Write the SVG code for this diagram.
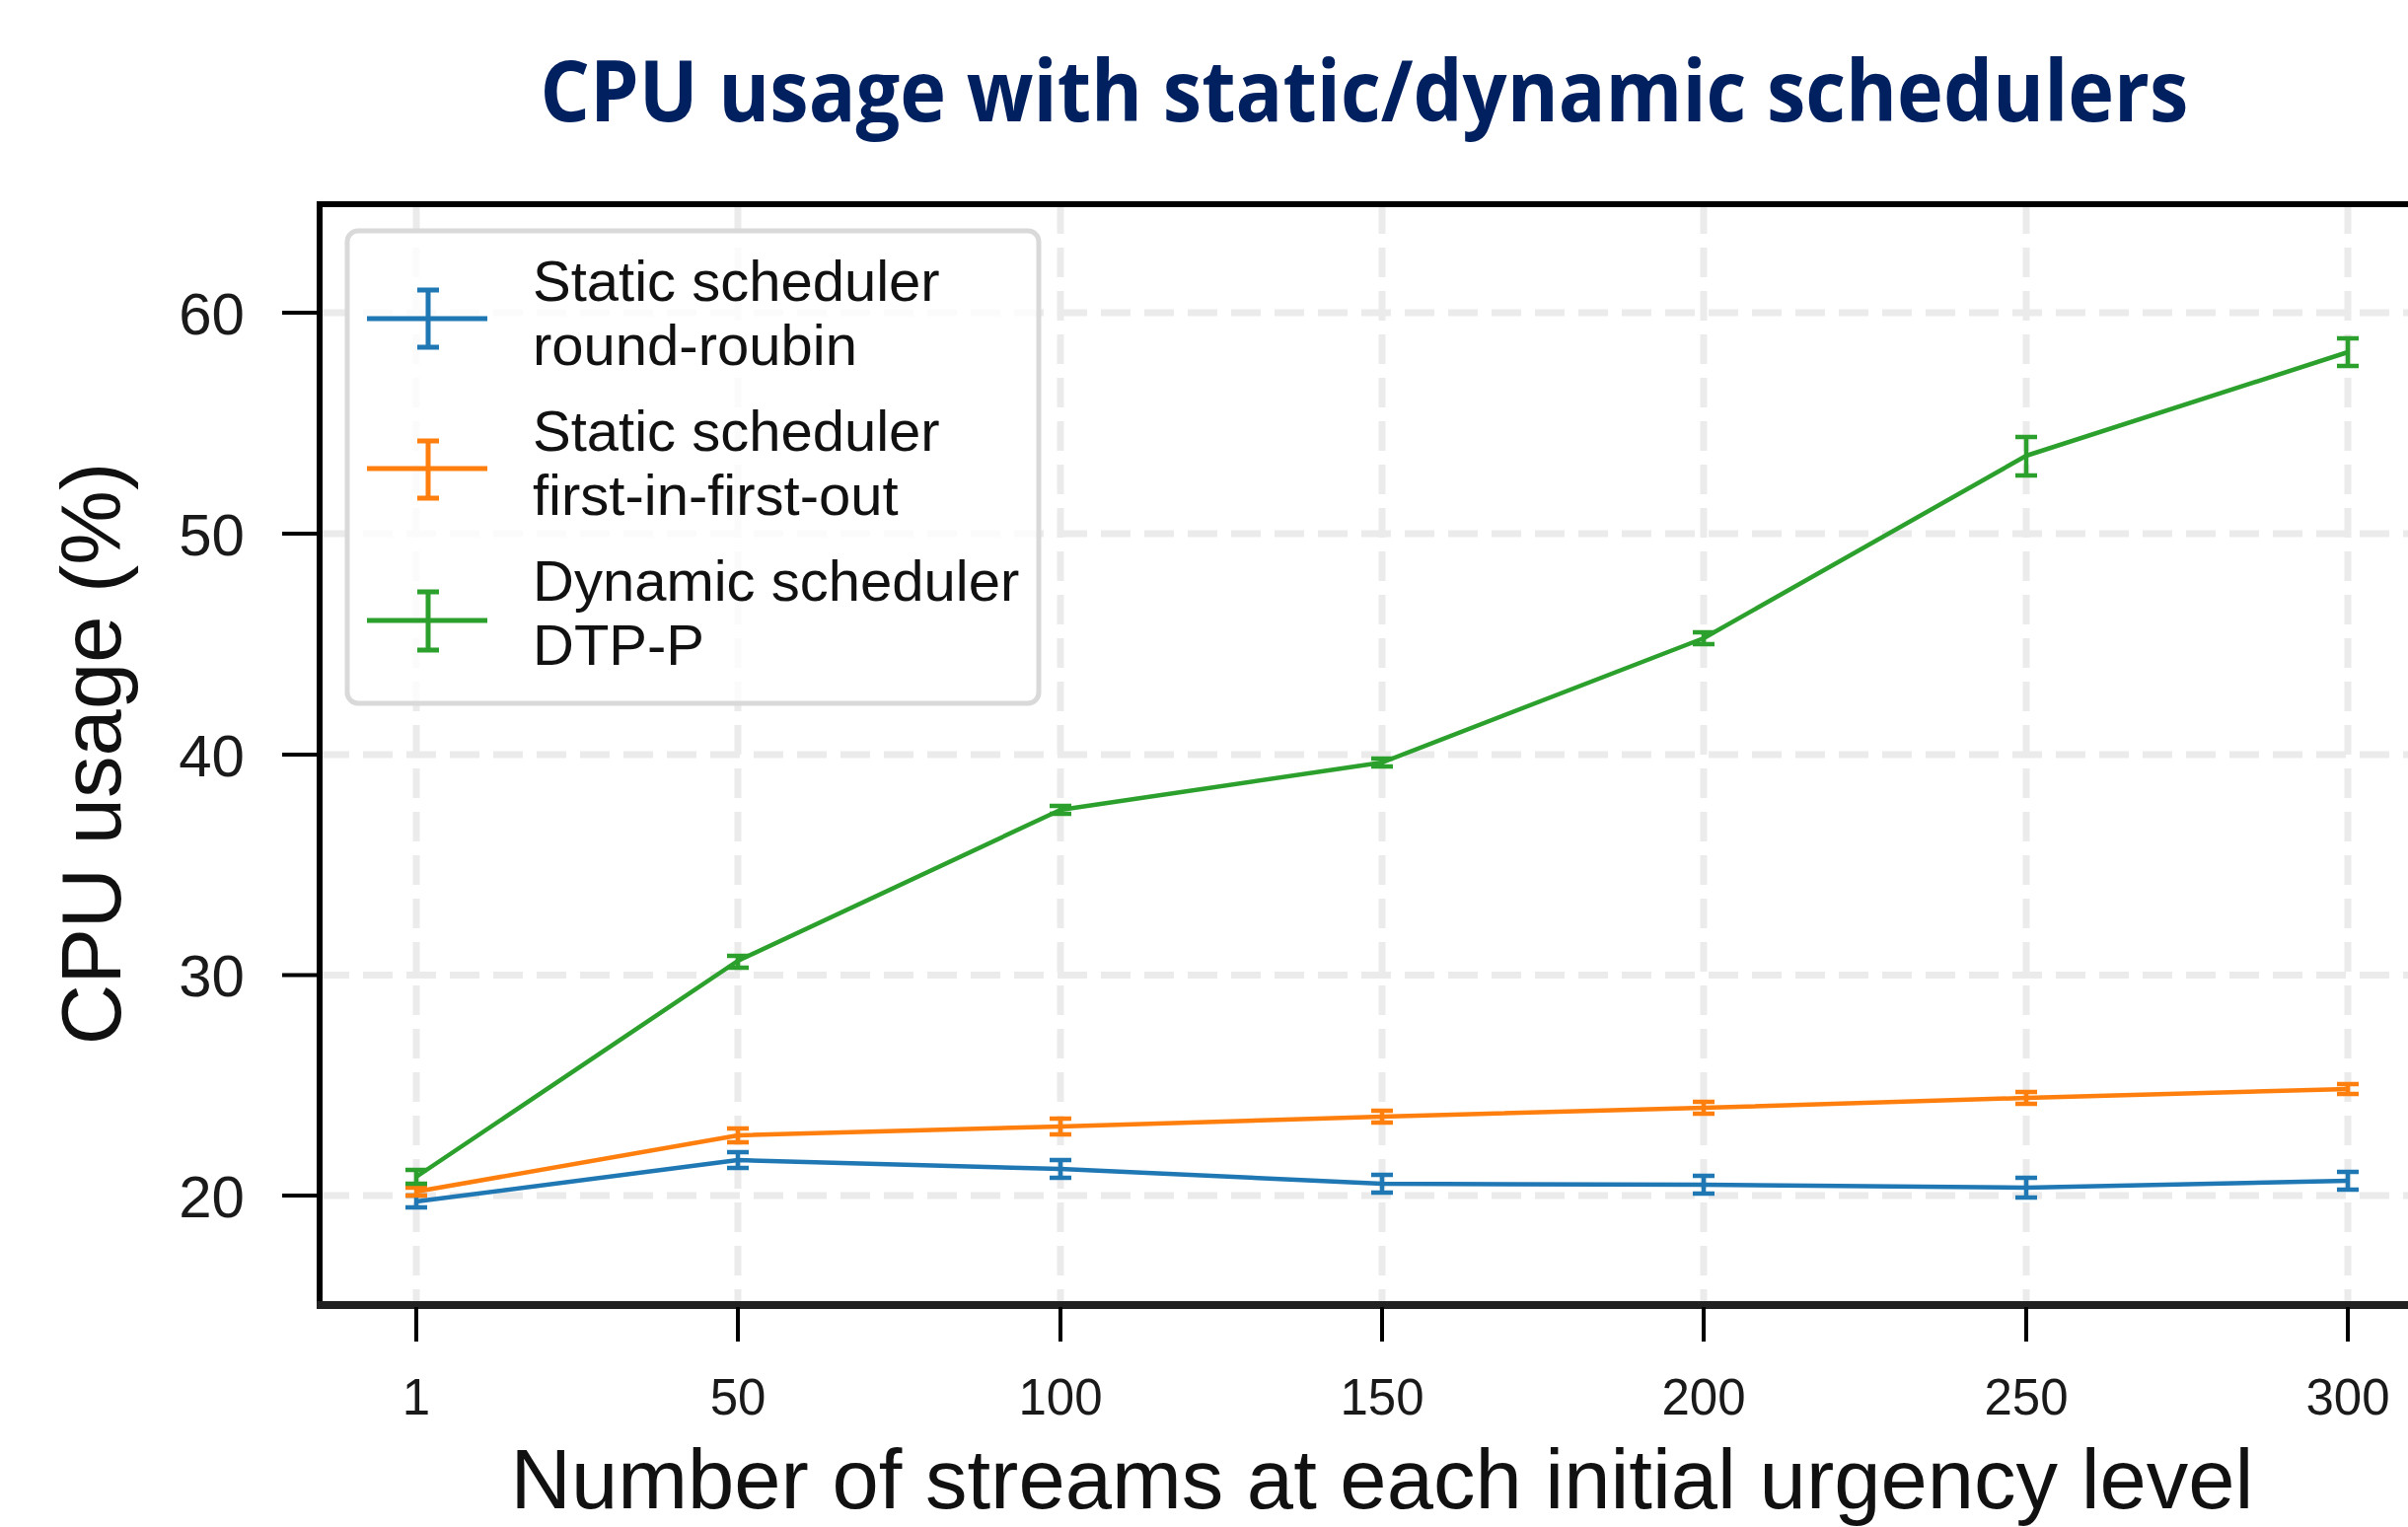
<svg xmlns="http://www.w3.org/2000/svg" width="2441" height="1548" viewBox="0 0 2441 1548">
<style>
.grid{stroke:#ebebeb;stroke-width:7;stroke-dasharray:30 14;fill:none}
.tick{stroke:#000;stroke-width:4}
.ylab{font-family:"Liberation Sans",Arial,sans-serif;font-size:60px;fill:#1a1a1a;text-anchor:end}
.xlab{font-family:"Liberation Sans",Arial,sans-serif;font-size:51px;fill:#1a1a1a;text-anchor:middle}
.leg{font-family:"Liberation Sans",Arial,sans-serif;font-size:58px;fill:#111}
.axt{font-family:"Liberation Sans",Arial,sans-serif;font-size:85px;fill:#111;text-anchor:middle}
.ln{fill:none;stroke-width:4.5;stroke-linejoin:round}
.eb{fill:none;stroke-width:4.5}
.blue{stroke:#1f77b4}
.orange{stroke:#ff7f0e}
.green{stroke:#2ca02c}
</style>
<rect width="2441" height="1548" fill="#fff"/>
<g id="title">
<text x="1383" y="123" font-family="'Open Sans','Noto Sans',sans-serif" font-weight="bold" font-size="86" fill="#002060" text-anchor="middle" textLength="1671" lengthAdjust="spacingAndGlyphs">CPU usage with static/dynamic schedulers</text>
</g>
<g id="grid">
<path class="grid" d="M324 317H2441M324 541H2441M324 765H2441M324 988.5H2441M324 1212H2441"/>
<path class="grid" d="M422 207V1323M748 207V1323M1075 207V1323M1401 207V1323M1727 207V1323M2054 207V1323M2380 207V1323"/>
</g>
<g id="axes">
<path d="M324 207V1323" stroke="#000" stroke-width="6"/>
<path d="M321 207H2441" stroke="#000" stroke-width="6"/>
<path d="M321 1323H2441" stroke="#222" stroke-width="8"/>
<path class="tick" d="M286 317H324M286 541H324M286 765H324M286 988.5H324M286 1212H324"/>
<path class="tick" d="M422 1325V1360M748 1325V1360M1075 1325V1360M1401 1325V1360M1727 1325V1360M2054 1325V1360M2380 1325V1360"/>
<text class="ylab" x="248" y="338.5">60</text>
<text class="ylab" x="248" y="562.5">50</text>
<text class="ylab" x="248" y="786.5">40</text>
<text class="ylab" x="248" y="1010">30</text>
<text class="ylab" x="248" y="1233.5">20</text>
<text class="xlab" x="422" y="1434">1</text>
<text class="xlab" x="748" y="1434">50</text>
<text class="xlab" x="1075" y="1434">100</text>
<text class="xlab" x="1401" y="1434">150</text>
<text class="xlab" x="1727" y="1434">200</text>
<text class="xlab" x="2054" y="1434">250</text>
<text class="xlab" x="2380" y="1434">300</text>
<text class="axt" transform="translate(122 764) rotate(-90)">CPU usage (%)</text>
<text class="axt" x="1401" y="1529" font-size="83">Number of streams at each initial urgency level</text>
</g>
<g id="series-round-robin">
<polyline class="ln blue" points="422,1218 748,1176 1075,1185 1401,1200 1727,1201 2054,1204 2380,1197"/>
<path class="eb blue" d="M422 1212V1224M411 1212H433M411 1224H433 M748 1168V1184M737 1168H759M737 1184H759 M1075 1176V1194M1064 1176H1086M1064 1194H1086 M1401 1191V1209M1390 1191H1412M1390 1209H1412 M1727 1192V1210M1716 1192H1738M1716 1210H1738 M2054 1194V1214M2043 1194H2065M2043 1214H2065 M2380 1188V1206M2369 1188H2391M2369 1206H2391"/>
</g>
<g id="series-fifo">
<polyline class="ln orange" points="422,1208 748,1151 1075,1142 1401,1132 1727,1123 2054,1113 2380,1104"/>
<path class="eb orange" d="M422 1204V1212M411 1204H433M411 1212H433 M748 1144V1158M737 1144H759M737 1158H759 M1075 1134V1150M1064 1134H1086M1064 1150H1086 M1401 1126V1138M1390 1126H1412M1390 1138H1412 M1727 1117V1129M1716 1117H1738M1716 1129H1738 M2054 1107V1119M2043 1107H2065M2043 1119H2065 M2380 1099V1109M2369 1099H2391M2369 1109H2391"/>
</g>
<g id="series-dtpp">
<polyline class="ln green" points="422,1193 748,974 1075,821 1401,773 1727,647 2054,462 2380,357"/>
<path class="eb green" d="M422 1186V1200M411 1186H433M411 1200H433 M748 969V981M737 969H759M737 981H759 M1075 817V825M1064 817H1086M1064 825H1086 M1401 769V777M1390 769H1412M1390 777H1412 M1727 641V653M1716 641H1738M1716 653H1738 M2054 443V482M2043 443H2065M2043 482H2065 M2380 343V371M2369 343H2391M2369 371H2391"/>
</g>
<g id="legend">
<rect x="352" y="234" width="701" height="479" rx="11" fill="#fff" fill-opacity="0.8" stroke="#d9d9d9" stroke-width="5"/>
<g id="legend-rr">
<path class="blue" stroke-width="5" d="M372 323H494M434 294V352M423 294H445M423 352H445"/>
<text class="leg" x="540" y="305">Static scheduler</text>
<text class="leg" x="540" y="370">round-roubin</text>
</g>
<g id="legend-fifo">
<path class="orange" stroke-width="5" d="M372 475H494M434 447V505M423 447H445M423 505H445"/>
<text class="leg" x="540" y="457">Static scheduler</text>
<text class="leg" x="540" y="522">first-in-first-out</text>
</g>
<g id="legend-dtpp">
<path class="green" stroke-width="5" d="M372 629H494M434 600V659M423 600H445M423 659H445"/>
<text class="leg" x="540" y="609">Dynamic scheduler</text>
<text class="leg" x="540" y="674">DTP-P</text>
</g>
</g>
</svg>
